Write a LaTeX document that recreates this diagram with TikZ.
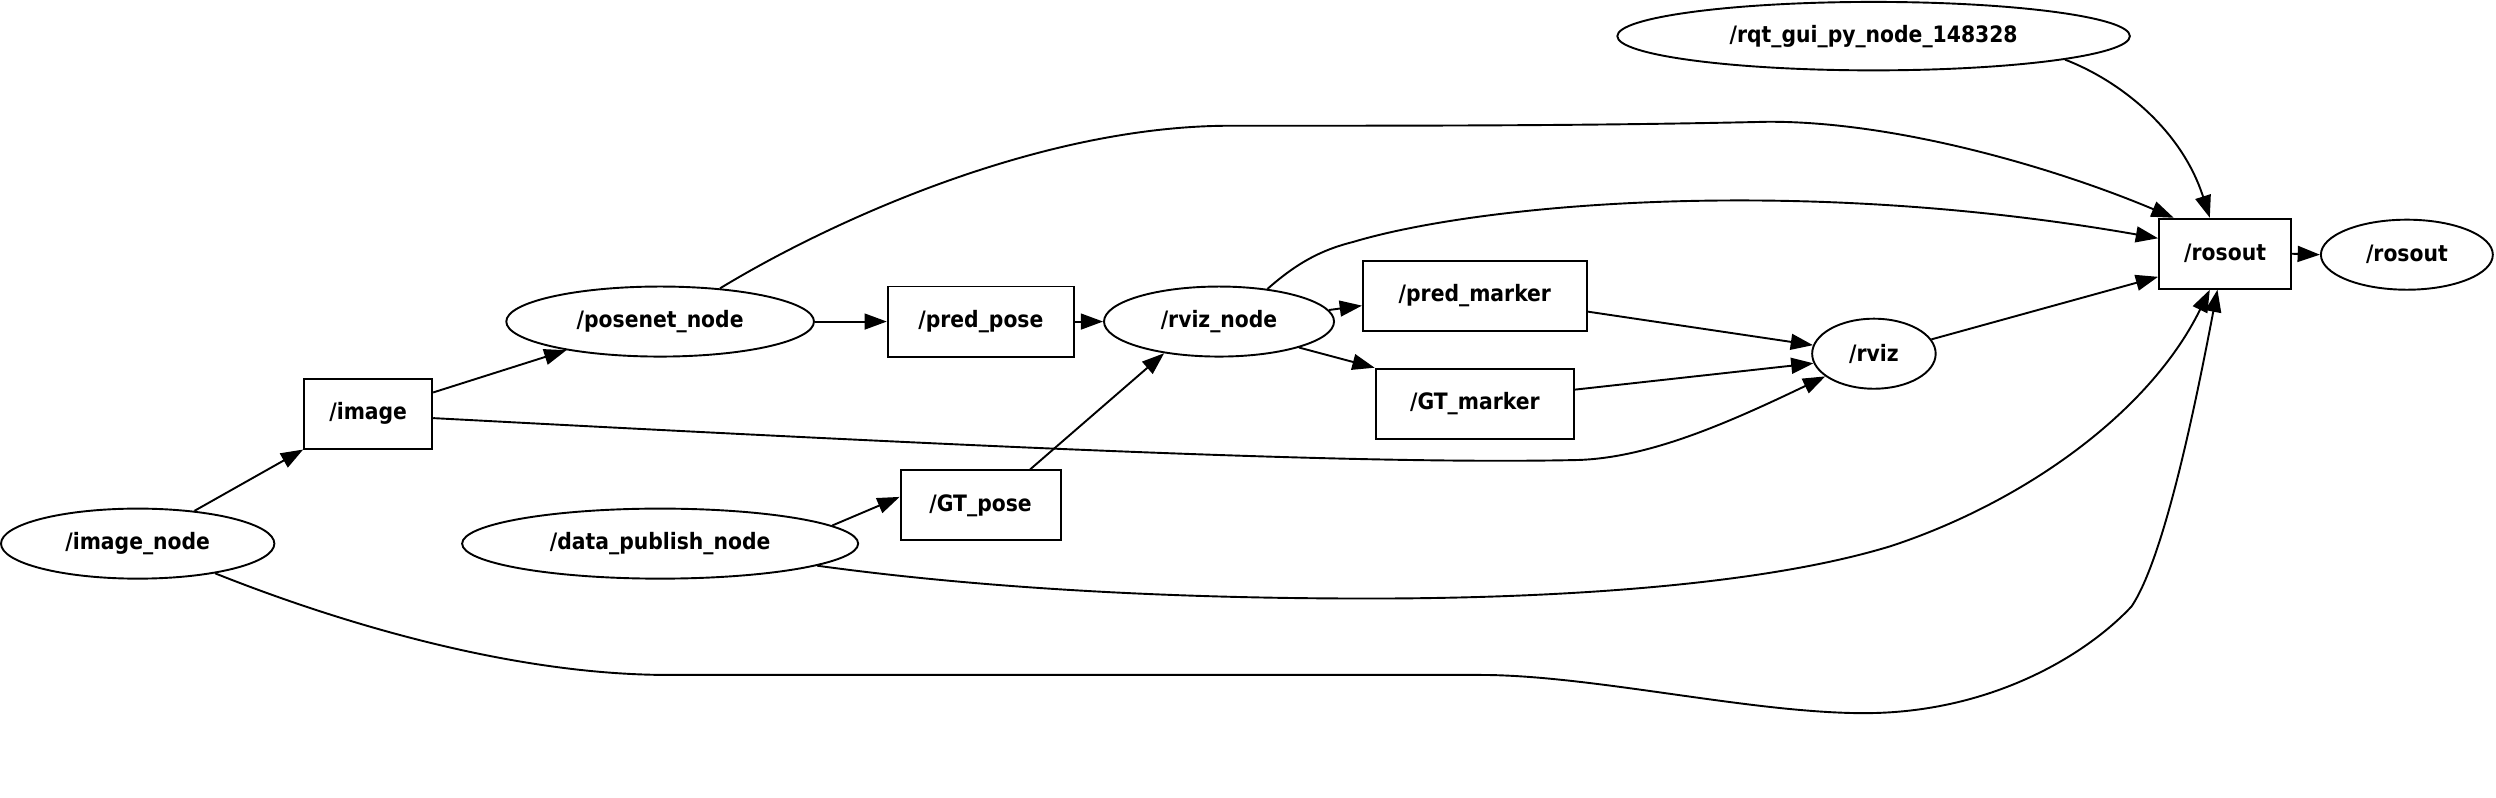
\documentclass[tikz,border=0pt]{standalone}
\usepackage{fontspec}
\usetikzlibrary{shapes.geometric,arrows.meta}
\newfontfamily\nodefont{DejaVu Sans Condensed}[BoldFont={DejaVu Sans Condensed Bold}]
\begin{document}
\begin{tikzpicture}[x=1pt,y=-1pt,
  every node/.style={font=\nodefont\fontsize{14.2}{15}\selectfont\bfseries, inner sep=0pt, line width=1.2pt},
  ell/.style={draw, ellipse, minimum height=44pt},
  box/.style={draw, rectangle, minimum height=44pt},
  edge/.style={draw, line width=1.2pt, -{Triangle[length=14pt,width=10pt]}}]
\useasboundingbox (0,0) rectangle (1568,500.7);

\node[ell, minimum width=322pt, minimum height=43pt] (rqt) at (1177,22.7) {/rqt\_gui\_py\_node\_148328};
\node[box, minimum width=83pt] (rosoutT) at (1397.8,159.4) {/rosout};
\node[ell, minimum width=108pt] (rosoutN) at (1512,160) {/rosout};
\node[ell, minimum width=193.3pt] (posenet) at (414.7,202) {/posenet\_node};
\node[box, minimum width=117pt] (predpose) at (616.2,202) {/pred\_pose};
\node[ell, minimum width=144.5pt] (rviznode) at (765.8,202) {/rviz\_node};
\node[box, minimum width=140.6pt] (predmarker) at (926.5,185.8) {/pred\_marker};
\node[box, minimum width=124.7pt] (gtmarker) at (926.5,253.6) {/GT\_marker};
\node[ell, minimum width=77.6pt] (rviz) at (1177.2,222.2) {/rviz};
\node[box, minimum width=80.5pt] (image) at (231.3,259.8) {/image};
\node[box, minimum width=100.5pt] (gtpose) at (616,317.5) {/GT\_pose};
\node[ell, minimum width=171.7pt] (imagenode) at (86.5,341.5) {/image\_node};
\node[ell, minimum width=248.8pt] (datapub) at (414.7,341.5) {/data\_publish\_node};

\path[edge] (imagenode.30) -- (image.south west);
\path[edge] (image.18) -- (posenet.197);
\path[edge] (posenet.east) -- (predpose.west);
\path[edge] (predpose.east) -- (rviznode.west);
\path[edge] (rviznode.6) -- (predmarker.185);
\path[edge] (rviznode.-18) -- (gtmarker.north west);
\path[edge] (predmarker.-8) -- (rviz.172);
\path[edge] (gtmarker.8) -- (rviz.189);
\path[edge] (image.-4) .. controls (600,280) and (850,292) .. (990,289)
  .. controls (1035,288) and (1085,266) .. (rviz.205);
\path[edge] (gtpose.36) -- (rviznode.210);
\path[edge] (datapub.6) -- (gtpose.174);
\path[edge] (rviznode.34) .. controls (815,165) and (830,157) .. (850,152)
  .. controls (930,128) and (1130,110) .. (rosoutT.167);
\path[edge] (posenet.29) .. controls (520,140) and (650,80) .. (770,79)
  .. controls (900,79) and (1000,79) .. (1110,76.5)
  .. controls (1190,76) and (1290,105) .. (rosoutT.145);
\path[edge] (rqt.-7.5) .. controls (1330,50) and (1370,80) .. (rosoutT.113);
\path[edge] (rviz.14) -- (rosoutT.199);
\path[edge] (datapub.-8) .. controls (620,370) and (740,376) .. (860,376)
  .. controls (960,376) and (1100,370) .. (1188,343)
  .. controls (1270,316) and (1350,260) .. (rosoutT.247);
\path[edge] (imagenode.-21) .. controls (210,390) and (320,424) .. (420,424)
  -- (930,424) .. controls (1000,424) and (1100,448) .. (1171,448)
  .. controls (1250,448) and (1310,412) .. (1339,381)
  .. controls (1360,350) and (1380,250) .. (rosoutT.258);
\path[edge] (rosoutT.east) -- (rosoutN.west);
\end{tikzpicture}
\end{document}
